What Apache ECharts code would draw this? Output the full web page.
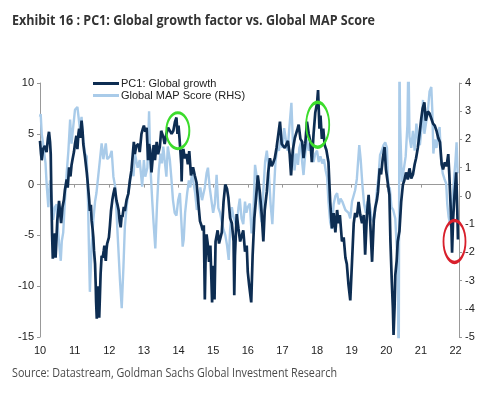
<!DOCTYPE html>
<html><head><meta charset="utf-8">
<script src="https://cdn.jsdelivr.net/npm/echarts@6/dist/echarts.min.js"></script>
<style>html,body{margin:0;padding:0;background:#fff}#c{width:500px;height:393px}</style>
</head><body><div id="c"></div>
<script>
const titleText = 'Exhibit 16 : PC1: Global growth factor vs. Global MAP Score';
const sourceText = 'Source: Datastream, Goldman Sachs Global Investment Research';
const seriesNames = ['PC1: Global growth', 'Global MAP Score (RHS)'];

// PC1: Global growth (left axis)
const pcYears = [2010.00,2010.03,2010.05,2010.09,2010.14,2010.19,2010.23,2010.26,2010.29,2010.31,2010.33,2010.35,2010.37,2010.39,2010.41,2010.43,2010.45,2010.48,2010.50,2010.53,2010.55,2010.58,2010.61,2010.65,2010.69,2010.72,2010.77,2010.80,2010.84,2010.88,2010.91,2010.94,2010.98,
2011.01,2011.05,2011.08,2011.11,2011.13,2011.16,2011.20,2011.23,2011.25,2011.28,2011.30,2011.33,2011.35,2011.37,2011.39,2011.42,2011.44,2011.47,2011.49,2011.52,2011.54,2011.56,2011.59,2011.61,2011.62,2011.64,2011.66,2011.68,2011.70,2011.71,2011.73,2011.75,2011.78,2011.81,2011.84,2011.86,2011.88,2011.90,2011.92,2011.94,2011.99,
2012.02,2012.05,2012.09,2012.12,2012.16,2012.21,2012.24,2012.27,2012.30,2012.33,2012.36,2012.38,2012.42,2012.45,2012.50,2012.55,2012.60,2012.64,2012.68,2012.71,2012.74,2012.78,2012.84,2012.88,2012.93,2012.97,
2013.00,2013.04,2013.08,2013.12,2013.15,2013.18,2013.22,2013.25,2013.28,2013.32,2013.37,2013.41,2013.46,2013.50,2013.56,2013.60,2013.65,2013.70,2013.75,2013.80,2013.85,2013.90,2013.94,2013.97,
2014.00,2014.03,2014.06,2014.08,2014.09,2014.11,2014.14,2014.18,2014.23,2014.27,2014.31,2014.36,2014.42,2014.47,2014.52,2014.57,2014.62,2014.66,2014.70,2014.73,2014.76,2014.78,2014.81,2014.85,2014.88,2014.92,2014.97,
2015.00,2015.02,2015.04,2015.07,2015.13,2015.17,2015.25,2015.30,2015.35,2015.40,2015.44,2015.49,2015.54,2015.59,2015.61,2015.63,2015.68,2015.73,2015.78,2015.87,2015.92,2015.97,
2016.00,2016.04,2016.10,2016.14,2016.19,2016.23,2016.29,2016.35,2016.40,2016.45,2016.49,2016.55,2016.59,2016.64,2016.69,2016.73,2016.78,2016.83,2016.88,2016.93,2016.98,
2017.07,2017.16,2017.21,2017.25,2017.30,2017.36,2017.43,2017.47,2017.52,2017.57,2017.61,2017.66,2017.71,2017.76,2017.81,2017.85,2017.90,2017.95,
2018.00,2018.03,2018.07,2018.10,2018.14,2018.18,2018.22,2018.27,2018.33,2018.38,2018.43,2018.48,2018.53,2018.58,2018.62,2018.66,2018.72,2018.77,2018.82,2018.86,2018.91,2018.96,
2019.01,2019.06,2019.10,2019.15,2019.20,2019.25,2019.30,2019.35,2019.39,2019.44,2019.49,2019.54,2019.59,2019.64,2019.68,2019.73,2019.76,2019.81,2019.85,2019.90,2019.95,2019.99,
2020.05,2020.09,2020.12,2020.16,2020.19,2020.21,2020.24,2020.26,2020.30,2020.33,2020.38,2020.43,2020.48,2020.52,2020.57,2020.62,2020.67,2020.72,2020.77,2020.82,2020.86,2020.91,2020.96,
2021.01,2021.05,2021.10,2021.14,2021.20,2021.25,2021.30,2021.35,2021.40,2021.45,2021.50,2021.55,2021.60,2021.64,2021.69,2021.74,2021.79,2021.82,2021.85,2021.88,2021.90,2021.93,2021.97,
2022.00,2022.02,2022.05,2022.07];
const pcValues = [4.3,3.0,2.4,3.5,3.8,3.2,4.6,5.2,4.2,3.0,-1.5,-5.0,-7.3,-5.5,-6.0,-4.8,-7.2,-5.0,-3.5,-2.5,-1.6,-2.8,-3.8,-2.2,-1.5,-0.5,0.5,-0.3,1.7,0.8,1.9,2.5,3.2,
4.0,4.8,3.5,5.0,5.5,4.6,6.3,5.2,4.0,3.2,2.7,1.8,1.2,0.5,-0.3,-1.5,-2.6,-2.0,-3.5,-4.4,-5.2,-6.5,-7.8,-10.0,-11.5,-13.2,-11.8,-10.0,-12.0,-13.1,-11.0,-8.8,-7.0,-7.2,-6.5,-6.0,-7.0,-7.5,-6.4,-5.8,-5.2,
-4.0,-2.6,-1.5,-0.9,-0.3,-1.6,-2.0,-2.5,-3.6,-4.2,-3.0,-3.2,-2.2,-2.6,-1.5,-0.9,0.5,1.4,3.0,4.2,3.0,3.8,4.0,3.2,5.0,5.5,
5.8,5.2,5.6,2.4,4.0,3.4,1.2,2.4,3.9,2.4,4.2,3.0,3.7,5.3,4.7,4.0,5.0,5.6,5.7,5.0,5.3,6.2,6.6,5.0,
5.8,4.5,4.5,2.0,0.3,3.0,3.5,2.6,3.0,2.0,3.3,0.9,1.7,0.9,0.2,-1.7,-3.6,-4.0,-4.5,-4.0,-11.3,-7.6,-4.9,-6.0,-7.6,-6.0,-11.6,
-8.0,-9.3,-11.3,-5.6,-4.5,-5.8,-4.7,-1.7,0.0,-0.4,-1.3,-3.3,-3.8,-5.6,-10.9,-7.0,-2.9,-4.3,-5.6,-4.5,-6.6,-6.0,
-8.6,-9.9,-11.6,-7.0,-3.3,-1.7,0.9,-0.8,-2.8,-5.6,-2.5,-0.7,1.2,2.6,1.8,2.1,2.6,3.6,4.9,6.2,4.0,
3.6,4.3,3.0,0.9,3.4,4.6,5.4,5.9,4.5,4.2,2.6,4.0,6.2,5.0,4.2,2.2,5.0,7.1,
8.0,9.3,5.5,6.8,4.5,5.5,3.9,3.4,2.2,-1.7,-4.3,-2.8,-4.7,-2.5,-3.8,-3.0,-5.6,-5.2,-7.2,-7.8,-9.9,-11.4,
-7.6,-3.8,-2.8,-3.2,-1.7,-3.0,-3.8,-3.0,-6.9,-3.0,-1.0,-4.0,-7.6,-3.5,-2.3,-1.5,-0.7,1.6,1.0,2.6,3.7,1.5,
0.0,-1.0,-5.6,-9.6,-12.1,-14.8,-12.0,-8.9,-7.5,-5.6,-4.6,-1.7,0.0,0.4,1.2,0.5,1.6,0.6,1.0,2.0,2.6,3.6,5.0,
6.5,7.5,8.1,6.3,7.2,7.0,6.5,6.0,5.8,5.3,4.6,4.2,2.0,1.5,2.2,1.8,3.0,1.0,-1.5,-4.0,-6.7,-3.4,-1.0,
0.3,1.2,-2.5,-5.4];

// Global MAP Score (right axis)
const mapYears = [2010.00,2010.02,2010.05,2010.10,2010.16,2010.19,2010.24,2010.29,2010.34,2010.38,2010.43,2010.48,2010.52,2010.56,2010.60,2010.63,2010.67,2010.72,2010.77,2010.82,2010.87,2010.91,2010.96,
2011.01,2011.08,2011.12,2011.15,2011.20,2011.25,2011.30,2011.35,2011.39,2011.42,2011.44,2011.49,2011.54,2011.59,2011.63,2011.73,2011.78,2011.83,2011.90,2011.94,
2012.02,2012.07,2012.12,2012.17,2012.21,2012.26,2012.31,2012.36,2012.41,2012.45,2012.50,2012.55,2012.60,2012.65,2012.70,2012.74,2012.82,2012.88,2012.95,
2013.00,2013.04,2013.10,2013.15,2013.19,2013.24,2013.28,2013.33,2013.38,2013.43,2013.48,2013.52,2013.56,2013.60,2013.65,2013.69,2013.75,2013.79,2013.84,2013.89,2013.94,2013.99,
2014.04,2014.08,2014.12,2014.15,2014.19,2014.25,2014.30,2014.34,2014.39,2014.48,2014.53,2014.58,2014.63,2014.68,2014.76,2014.81,2014.85,2014.90,2014.95,
2015.00,2015.05,2015.10,2015.15,2015.20,2015.25,2015.30,2015.35,2015.40,2015.45,2015.49,2015.54,2015.58,2015.63,2015.68,2015.73,2015.77,2015.82,2015.87,2015.92,2015.96,
2016.00,2016.06,2016.11,2016.16,2016.21,2016.28,2016.35,2016.40,2016.45,2016.50,2016.55,2016.60,2016.66,2016.71,2016.76,2016.80,2016.85,2016.90,2016.95,
2017.00,2017.05,2017.10,2017.15,2017.20,2017.26,2017.30,2017.35,2017.40,2017.45,2017.49,2017.54,2017.57,2017.61,2017.66,2017.71,2017.76,2017.81,2017.86,2017.90,2017.95,
2018.00,2018.05,2018.10,2018.15,2018.20,2018.25,2018.29,2018.33,2018.38,2018.43,2018.48,2018.53,2018.58,2018.63,2018.68,2018.73,2018.82,2018.91,2018.96,
2019.01,2019.10,2019.15,2019.22,2019.26,2019.31,2019.36,2019.41,2019.46,2019.52,2019.58,2019.63,2019.68,2019.73,2019.77,2019.82,2019.87,2019.92,2019.97,
2020.02,2020.04,2020.07,2020.10,2020.15,2020.20,2020.26,2020.33,2020.36,2020.38,2020.40,2020.45,2020.50,2020.56,2020.61,2020.64,2020.67,2020.72,2020.77,2020.82,2020.87,2020.92,2020.97,
2021.02,2021.06,2021.10,2021.15,2021.20,2021.25,2021.30,2021.33,2021.36,2021.40,2021.45,2021.50,2021.54,2021.58,2021.63,2021.68,2021.73,2021.76,2021.80,2021.84,2021.87,2021.92,2021.96,
2022.00,2022.03,2022.06];
const mapValues = [2.8,2.9,2.2,1.75,1.15,0.45,-0.4,0.55,-0.15,-0.85,-0.4,-0.3,-1.2,-1.8,-2.3,-1.6,-1.3,-0.15,0.8,1.6,2.7,1.85,2.45,
3.05,3.15,3.1,2.4,2.8,2.0,1.5,1.4,-0.4,-2.27,-3.4,-1.8,-0.85,-0.2,0.1,1.27,1.86,1.3,1.86,1.3,
1.4,1.6,0.68,0.33,-0.6,-1.8,-3.0,-3.98,-2.5,-1.1,-0.4,0.1,0.56,0.9,0.7,1.5,1.0,1.27,0.33,
1.27,0.68,1.0,3.0,1.0,-0.15,-0.96,-1.86,-0.3,0.9,1.5,1.15,1.75,1.27,0.68,1.75,1.27,0.68,-0.15,-0.6,-0.7,-0.15,
0.1,-0.85,-1.8,-1.55,-0.6,0.1,0.55,0.3,0.8,0.1,-0.5,-0.15,0.3,-0.15,0.3,0.8,1.0,0.3,-0.15,
-0.6,-0.27,0.75,-0.43,-0.6,-0.93,-1.2,-1.38,-1.74,-2.27,-1.2,-0.4,-0.7,-0.9,-1.1,-0.43,-0.1,-0.8,-1.0,-0.2,-0.6,
-0.4,-0.27,-1.33,-0.74,1.1,0.5,-0.5,-0.93,0.2,1.2,1.6,1.0,-0.3,-1.0,0.3,1.2,1.7,1.6,2.1,
1.7,2.4,2.0,1.6,2.4,3.3,2.0,0.9,1.5,1.1,1.7,1.9,1.2,0.74,1.5,2.0,1.6,1.9,1.4,1.2,1.5,
1.6,1.2,1.4,1.15,1.3,0.9,0.67,-0.2,-0.93,-1.17,-0.3,0.0,0.1,-0.3,-0.1,-0.2,-0.5,-0.6,-0.8,
-0.2,0.2,0.6,1.8,1.3,0.4,-0.3,-0.6,-0.2,-0.3,-0.8,-0.93,-0.5,0.2,0.6,1.45,1.6,1.8,1.9,
1.7,0.8,0.14,0.3,-0.4,-0.5,-0.8,-2.5,-6.5,5.0,2.5,0.5,0.9,1.4,2.5,5.0,2.1,1.7,2.3,1.6,2.56,2.0,1.8,
2.4,3.4,2.2,2.6,3.0,3.7,3.86,3.0,1.5,2.0,1.7,2.2,2.44,1.3,0.8,0.6,0.44,-0.27,-0.74,-1.0,-1.1,-0.04,0.67,
1.26,1.9,0.8];

const yearTicks = [2010, 2022];
const leftRange = [-15, 10, 5];
const rightRange = [-5, 4, 1];

// annotation rings: [year, PC1 value, width, height]
const greenRings = [[2013.98, 5.3, 23, 36], [2018.02, 5.9, 23, 45]];
const redRings = [[2021.97, -5.6, 22, 42]];

const zip = (xs, ys) => xs.map((x, i) => [x, ys[i]]);
const ring = (r, color) => ({coord: [r[0], r[1]], symbol: 'circle', symbolSize: [r[2], r[3]],
  itemStyle: {color: 'rgba(0,0,0,0)', borderColor: color, borderWidth: 2.5}});

// condensed text: measure, then squeeze horizontally to the reference width
const titleFont = "bold 15px 'Open Sans', 'Noto Sans', sans-serif";
const sourceFont = "12px 'Open Sans', 'Noto Sans', sans-serif";
const ctx = document.createElement('canvas').getContext('2d');
function squeeze(text, font, targetWidth) { ctx.font = font; return targetWidth / ctx.measureText(text).width; }

const axisFont = {fontFamily: "'Liberation Sans', Arial, sans-serif", fontSize: 11, color: '#222'};
const chart = echarts.init(document.getElementById('c'), null, {renderer: 'canvas'});
chart.setOption({
  animation: false,
  graphic: [
    {type: 'text', x: 12, y: 13, scaleX: squeeze(titleText, titleFont, 363), silent: true,
     style: {text: titleText, font: titleFont, fill: '#333', textVerticalAlign: 'top'}},
    {type: 'text', x: 12, y: 368, scaleX: squeeze(sourceText, sourceFont, 325), silent: true,
     style: {text: sourceText, font: sourceFont, fill: '#4a4a4a', textVerticalAlign: 'top'}}
  ],
  legend: {
    data: seriesNames, orient: 'vertical', left: 93, top: 78, padding: 0, itemWidth: 26, itemHeight: 3, itemGap: 1,
    icon: 'rect', textStyle: {fontFamily: "'Liberation Sans', Arial, sans-serif", fontSize: 11, color: '#222', padding: [0, 0, 0, -3]}
  },
  grid: {left: 40, right: 41, top: 83, bottom: 56, containLabel: false},
  xAxis: [
    {type: 'value', min: yearTicks[0], max: 2022.1, interval: 1,
     axisLine: {show: false, onZero: false}, axisTick: {show: false}, splitLine: {show: false},
     axisLabel: Object.assign({margin: 8, formatter: v => (v % 1 === 0 && v <= yearTicks[1]) ? String(v - 2000) : '', showMaxLabel: false}, axisFont)},
    {type: 'value', min: yearTicks[0], max: 2022.1, interval: 1, position: 'bottom',
     axisLine: {show: true, onZero: true, lineStyle: {color: '#999', width: 1}},
     axisTick: {show: true, inside: false, length: 3, lineStyle: {color: '#999'}},
     axisLabel: {show: false}, splitLine: {show: false}}
  ],
  yAxis: [
    {type: 'value', min: leftRange[0], max: leftRange[1], interval: leftRange[2], position: 'left',
     axisLine: {show: true, lineStyle: {color: '#999'}}, axisTick: {show: true, length: 3, lineStyle: {color: '#999'}},
     splitLine: {show: false}, axisLabel: Object.assign({margin: 6}, axisFont)},
    {type: 'value', min: rightRange[0], max: rightRange[1], interval: rightRange[2], position: 'right',
     axisLine: {show: true, lineStyle: {color: '#999'}}, axisTick: {show: true, length: 3, lineStyle: {color: '#999'}},
     splitLine: {show: false}, axisLabel: Object.assign({margin: 6}, axisFont)}
  ],
  series: [
    {name: seriesNames[1], type: 'line', xAxisIndex: 0, yAxisIndex: 1, data: zip(mapYears, mapValues),
     showSymbol: false, symbol: 'none', z: 2, lineStyle: {color: '#a9cbe9', width: 2.4}, itemStyle: {color: '#a9cbe9'}},
    {name: seriesNames[0], type: 'line', xAxisIndex: 0, yAxisIndex: 0, data: zip(pcYears, pcValues),
     showSymbol: false, symbol: 'none', z: 3, lineStyle: {color: '#0d2d52', width: 2.7}, itemStyle: {color: '#0d2d52'},
     markPoint: {silent: true, label: {show: false}, z: 5,
       data: greenRings.map(r => ring(r, '#3cdc2c')).concat(redRings.map(r => ring(r, '#d8202c')))}}
  ]
});
</script></body></html>
